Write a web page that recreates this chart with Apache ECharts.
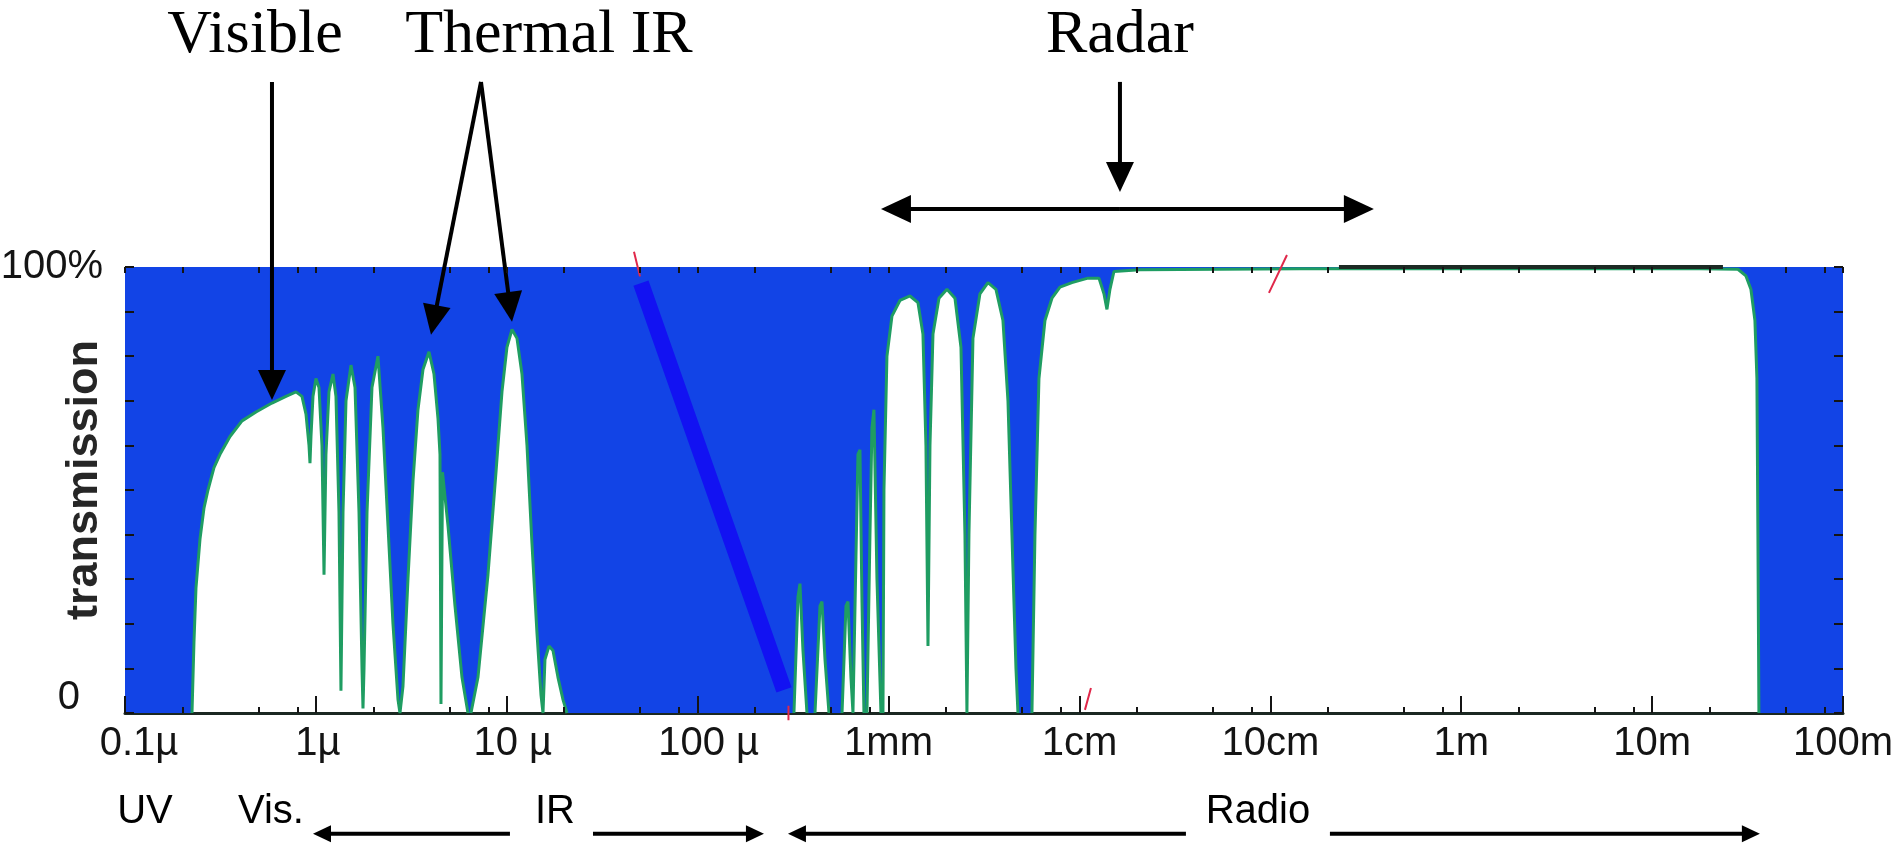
<!DOCTYPE html>
<html>
<head>
<meta charset="utf-8">
<script src="https://cdn.jsdelivr.net/npm/echarts@6/dist/echarts.min.js"></script>
<style>
html,body{margin:0;padding:0;background:#ffffff;}
#c{width:1901px;height:849px;}
</style>
</head>
<body>
<div id="c"></div>
<script>
// ---------------- DATA ----------------
// wavelength in micrometres, atmospheric transmission in percent
const wavelengthUm = [
  0.1, 0.2244, 0.2298, 0.2354, 0.2471, 0.2594, 0.2721, 0.2925, 0.3146, 0.3548,
  0.4102, 0.4856, 0.5888, 0.6972, 0.7866, 0.8455, 0.8874, 0.9202, 0.9313, 0.9425,
  0.9656, 1.001, 1.038, 1.076, 1.103, 1.129, 1.171, 1.229, 1.274, 1.321,
  1.353, 1.387, 1.438, 1.527, 1.603, 1.682, 1.744, 1.765, 1.787, 1.853,
  1.967, 2.114, 2.246, 2.386, 2.534, 2.692, 2.757, 2.859, 3.037, 3.226,
  3.426, 3.639, 3.913, 4.156, 4.362, 4.468, 4.522, 4.605, 4.920, 5.354,
  5.825, 6.261, 6.492, 7.066, 7.971, 8.780, 9.437, 10.02, 10.65, 11.31,
  12.01, 12.76, 13.55, 14.39, 15.11, 15.48, 15.85, 16.64, 17.46, 18.54,
  19.70, 20.67,
  319.5, 335.3, 343.5, 356.2, 373.7, 411.7, 437.3, 447.9, 464.5, 487.3,
  570.6, 598.4, 612.8, 635.3, 651.0, 674.9, 691.4, 708.4, 725.6, 743.2,
  770.7, 799.0, 818.5, 838.5, 869.5, 912.5, 934.9,
  946.0, 980.8, 1041.8, 1147, 1295, 1426, 1514, 1570, 1609,
  1648, 1709, 1837, 2023, 2228, 2395, 2513, 2574, 2637, 2768,
  3011, 3317, 3653, 3974, 4222, 4430, 4650, 4763, 5639, 5847,
  6136, 6596, 7178, 7906, 9136, 11078, 12655, 13440, 13933, 14448,
  15160, 20750, 142950, 1.78e7, 2.815e7, 3.101e7, 3.293e7, 3.456e7, 3.540e7, 3.583e7,
  3.627e7, 1e8
];
const transmissionPct = [
  0, 0, 16, 28, 39, 46, 50, 55, 58, 62,
  65.5, 67.5, 69.5, 71, 72, 71, 67, 60, 56, 62,
  71, 75, 73, 60, 31, 58, 72, 76, 71, 45,
  5, 45, 70, 78, 73, 45, 10, 1, 10, 45,
  73, 80, 64, 42, 20, 3, 0, 6, 30, 52,
  68, 77, 81, 76, 66, 58, 2, 54, 42, 24,
  8, 0, 0, 8, 31, 54, 72, 82, 86, 84,
  76, 60, 38, 18, 4, 0, 12, 15, 14, 8,
  3, 0,
  0, 26, 29, 14, 0, 0, 24, 25, 12, 0,
  0, 24, 25, 8, 0, 35, 58, 59, 25, 0,
  0, 40, 64, 68, 30, 0, 0,
  50, 80, 89, 92.5, 93.5, 92, 85, 60, 15,
  60, 85, 93, 95, 93, 82, 40, 0, 40, 84,
  94, 96.5, 95, 88, 70, 40, 10, 0, 0, 40,
  75, 88, 93, 95.5, 96.5, 97.5, 97.5, 94, 90.5, 95,
  99, 99.4, 99.6, 99.6, 99.5, 98, 95, 88, 75, 40,
  0, 0
];

// x-axis decades and their labels
const decadeValues = [0.1, 1, 10, 100, 1e3, 1e4, 1e5, 1e6, 1e7, 1e8];
const decadeLabels = ['0.1\u00b5', '1\u00b5', '10 \u00b5', '100 \u00b5', '1mm', '1cm', '10cm', '1m', '10m', '100m'];
const minorTickValues = [
  0.2, 0.5, 0.8, 2, 5, 8, 20, 50, 80, 200, 500, 800,
  2e3, 5e3, 8e3, 2e4, 5e4, 8e4, 2e5, 5e5, 8e5, 2e6, 5e6, 8e6, 2e7, 5e7, 8e7
];

// thick blue overlay stroke (wavelength um, percent)
const overlayStrokeX = [50.47, 283.2];
const overlayStrokeY = [96.4, 5.2];
// dark rule along 100 %
const topRuleX = [228800, 2.35e7];
const topRuleY = [100, 100];
// small red marks (pairs of points)
const redMarkX = [46.39, 49.86, 299.0, 299.0, 10686, 11487, 98330, 122220];
const redMarkY = [103.4, 97.9, 1.6, -1.6, 0.7, 5.6, 94.2, 102.7];

// annotations (in wavelength um / percent units)
const topLabelText = ['Visible', 'Thermal IR', 'Radar'];
const topLabelX = [0.4797, 16.63, 16300];
const topLabelY = [151.8, 151.8, 151.8];
const bandLabelText = ['UV', 'Vis.', 'IR', 'Radio'];
const bandLabelX = [0.1273, 0.5819, 17.89, 86100];
const bandLabelY = [-22.2, -22.2, -22.2, -22.2];
const topArrowFromX = [0.5888, 7.327, 7.327, 16300, 16300, 16300];
const topArrowFromY = [141.5, 141.5, 141.5, 141.5, 113.0, 113.0];
const topArrowToX = [0.5888, 4.009, 10.65, 16300, 912.5, 348800];
const topArrowToY = [70.2, 84.8, 87.7, 116.8, 113.0, 113.0];
const bandArrowFromX = [10.39, 28.29, 36130, 205200];
const bandArrowFromY = [-27.1, -27.1, -27.1, -27.1];
const bandArrowToX = [0.9656, 222.5, 297.2, 3.67e7];
const bandArrowToY = [-27.1, -27.1, -27.1, -27.1];

// ---------------- BUILD ----------------
const BLUE = '#1244e6';
const GREEN = '#1f9d62';
const INK = '#141414';
const SANS = '"Liberation Sans",Arial,sans-serif';
const SERIF = '"Liberation Serif","Times New Roman",serif';

const curve = wavelengthUm.map((w, i) => [w, transmissionPct[i]]);
// outline: skip stretches lying on the zero baseline
const outline = [];
for (let i = 0; i < curve.length; i++) {
  outline.push(curve[i]);
  if (i < curve.length - 1 && curve[i][1] === 0 && curve[i + 1][1] === 0) {
    outline.push([Math.sqrt(curve[i][0] * curve[i + 1][0]), '-']);
  }
}
const overlayStroke = overlayStrokeX.map((x, i) => [x, overlayStrokeY[i]]);
const topRule = topRuleX.map((x, i) => [x, topRuleY[i]]);
const redMarks = [];
for (let i = 0; i < redMarkX.length; i += 2) {
  redMarks.push([redMarkX[i], redMarkY[i]]);
  redMarks.push([redMarkX[i + 1], redMarkY[i + 1]]);
  redMarks.push([Math.sqrt(redMarkX[i + 1] * (redMarkX[i + 2] || redMarkX[i + 1])), '-']);
}
const topArrows = topArrowFromX.map((x, i) => [x, topArrowFromY[i], topArrowToX[i], topArrowToY[i]]);
const bandArrows = bandArrowFromX.map((x, i) => [x, bandArrowFromY[i], bandArrowToX[i], bandArrowToY[i]]);
const topLabels = topLabelX.map((x, i) => [x, topLabelY[i]]);
const bandLabels = bandLabelX.map((x, i) => [x, bandLabelY[i]]);

// x-label rich styles (the micron labels sit a little right of their ticks)
const xRich = {};
const xLabelPad = [28, 4, 12, 22, 0, 0, 0, 0, 0, 0];
decadeLabels.forEach((t, i) => {
  xRich['l' + i] = { fontSize: 40, fontFamily: SANS, color: INK, padding: [0, 0, 0, xLabelPad[i]] };
});

function arrowRenderer(headLen, headWid, lw) {
  return function (params, api) {
    const p1 = api.coord([api.value(0), api.value(1)]);
    const p2 = api.coord([api.value(2), api.value(3)]);
    const dx = p2[0] - p1[0], dy = p2[1] - p1[1];
    const L = Math.hypot(dx, dy) || 1;
    const ux = dx / L, uy = dy / L;
    const bx = p2[0] - ux * headLen, by = p2[1] - uy * headLen;
    const nx = -uy * headWid / 2, ny = ux * headWid / 2;
    return {
      type: 'group',
      children: [
        { type: 'line', shape: { x1: p1[0], y1: p1[1], x2: bx + ux, y2: by + uy },
          style: { stroke: '#000', lineWidth: lw } },
        { type: 'polygon', shape: { points: [[p2[0], p2[1]], [bx + nx, by + ny], [bx - nx, by - ny]] },
          style: { fill: '#000' } }
      ]
    };
  };
}
function textRenderer(texts, size, family) {
  return function (params, api) {
    const p = api.coord([api.value(0), api.value(1)]);
    return {
      type: 'text', x: p[0], y: p[1],
      style: { text: texts[params.dataIndex], fontSize: size, fontFamily: family,
        fill: '#000', align: 'center', verticalAlign: 'middle' }
    };
  };
}
function tickAxis(pos, values, len) {
  return {
    type: 'log', logBase: 10, min: 0.1, max: 1e8, position: pos, z: 10,
    axisLine: { show: false }, axisLabel: { show: false }, splitLine: { show: false },
    axisTick: { show: true, inside: true, length: len, customValues: values,
      lineStyle: { color: INK, width: 2 } }
  };
}

const chart = echarts.init(document.getElementById('c'), null, { renderer: 'canvas', width: 1901, height: 849 });
chart.setOption({
  animation: false,
  backgroundColor: '#ffffff',
  grid: { left: 125, right: 58, top: 267, bottom: 136, containLabel: false, outerBoundsMode: 'none' },
  xAxis: [
    {
      type: 'log', logBase: 10, min: 0.1, max: 1e8, position: 'bottom', splitNumber: 9, z: 0,
      axisLine: { show: true, lineStyle: { color: '#1b2822', width: 3 } },
      axisTick: { show: false },
      splitLine: { show: false },
      axisLabel: {
        show: true, margin: 11, customValues: decadeValues,
        fontSize: 40, fontFamily: SANS, color: INK,
        formatter: v => {
          const i = Math.round(Math.log10(v)) + 1;
          return '{l' + i + '|' + decadeLabels[i] + '}';
        },
        rich: xRich
      }
    },
    tickAxis('bottom', decadeValues, 17),
    tickAxis('bottom', minorTickValues, 6),
    tickAxis('top', decadeValues.concat(minorTickValues), 6)
  ],
  yAxis: [
    {
      type: 'value', min: 0, max: 100, interval: 10, position: 'left', z: 10,
      name: 'transmission', nameLocation: 'middle', nameRotate: 90, nameGap: 18,
      nameMoveOverlap: false,
      nameTextStyle: { fontSize: 45, fontWeight: 'bold', fontFamily: SANS, color: '#262626',
        padding: [0, 0, 0, 20] },
      axisLine: { show: false },
      splitLine: { show: false },
      axisTick: { show: true, inside: true, length: 9, lineStyle: { color: INK, width: 2 } },
      axisLabel: {
        margin: 22, color: INK,
        formatter: v => (v === 100 ? '{a|100%}' : (v === 0 ? '{b|0}' : '')),
        rich: {
          a: { fontSize: 40, fontFamily: SANS, color: INK },
          b: { fontSize: 40, fontFamily: SANS, color: INK, padding: [0, 23, 30, 0] }
        }
      }
    },
    {
      type: 'value', min: 0, max: 100, interval: 10, position: 'right', z: 10,
      axisLine: { show: false }, splitLine: { show: false }, axisLabel: { show: false },
      axisTick: { show: true, inside: true, length: 9, lineStyle: { color: INK, width: 2 } }
    }
  ],
  series: [
    {
      name: 'absorption', type: 'line', data: curve, showSymbol: false, silent: true, z: 2,
      lineStyle: { width: 0, opacity: 0 },
      areaStyle: { color: BLUE, opacity: 1, origin: 'end' }
    },
    {
      name: 'overlay', type: 'line', data: overlayStroke, showSymbol: false, silent: true, z: 3,
      lineStyle: { color: '#1212f2', width: 16, cap: 'butt' }
    },
    {
      name: 'transmission', type: 'line', data: outline, showSymbol: false, silent: true, z: 4,
      connectNulls: false,
      lineStyle: { color: GREEN, width: 3 }
    },
    {
      name: 'topRule', type: 'line', data: topRule, showSymbol: false, silent: true, z: 4, clip: false,
      lineStyle: { color: '#1c2a24', width: 4 }
    },
    {
      name: 'redMarks', type: 'line', data: redMarks, showSymbol: false, silent: true, z: 4, clip: false,
      connectNulls: false,
      lineStyle: { color: '#e0284a', width: 2 }
    },
    {
      name: 'topArrows', type: 'custom', data: topArrows, silent: true, z: 6, clip: false,
      encode: { x: [0, 2], y: [1, 3] },
      renderItem: arrowRenderer(30, 28, 4)
    },
    {
      name: 'bandArrows', type: 'custom', data: bandArrows, silent: true, z: 6, clip: false,
      encode: { x: [0, 2], y: [1, 3] },
      renderItem: arrowRenderer(18, 17, 4)
    },
    {
      name: 'topLabels', type: 'custom', data: topLabels, silent: true, z: 6, clip: false,
      renderItem: textRenderer(topLabelText, 62, SERIF)
    },
    {
      name: 'bandLabels', type: 'custom', data: bandLabels, silent: true, z: 6, clip: false,
      renderItem: textRenderer(bandLabelText, 40, SANS)
    }
  ]
});
</script>
</body>
</html>
